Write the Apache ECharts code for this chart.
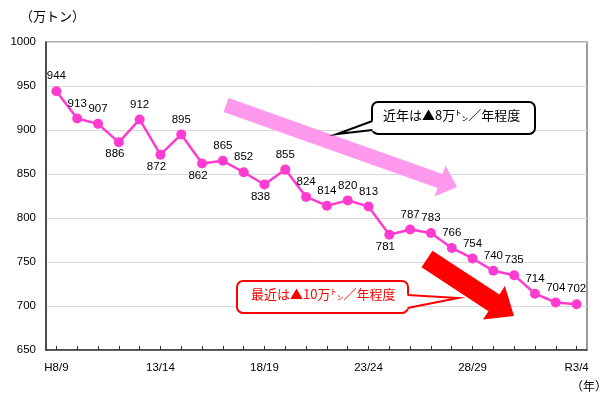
<!DOCTYPE html>
<html><head><meta charset="utf-8">
<script src="https://cdn.jsdelivr.net/npm/echarts@6/dist/echarts.min.js"></script>
<style>html,body{margin:0;padding:0;background:#fff}#c{width:607px;height:407px}</style>
</head><body><div id="c"></div>
<script>
var categories = ['H8/9','9/10','10/11','11/12','12/13','13/14','14/15','15/16','16/17','17/18','18/19','19/20','20/21','21/22','22/23','23/24','24/25','25/26','26/27','27/28','28/29','29/30','30/R1','R1/2','R2/3','R3/4'];
var values = [944,913,907,886,912,872,895,862,865,852,838,855,824,814,820,813,781,787,783,766,754,740,735,714,704,702];
var belowIdx = [3,5,7,10,16];
var yTicks = [650,700,750,800,850,900,950,1000];
var unitLabel = '（万トン）';
var yearLabel = '（年）';
var note1 = '近年は▲8万㌧／年程度';
var note2 = '最近は▲10万㌧／年程度';

var chart = echarts.init(document.getElementById('c'), null, {renderer:'canvas'});
var numFont = 'Liberation Sans, Arial, sans-serif';
var jpFont = '"Noto Sans CJK JP", sans-serif';

var data = values.map(function(v,i){
  var below = belowIdx.indexOf(i) >= 0;
  return {value: v, label: below ? {position:'bottom', distance:1, offset:[-4,0]} : {position:'top', distance:4}};
});

function arrowPts(x0,y0,x1,y1,sw,hw,hl){
  var dx=x1-x0, dy=y1-y0, L=Math.sqrt(dx*dx+dy*dy), ux=dx/L, uy=dy/L, nx=-uy, ny=ux;
  var bx=x1-ux*hl, by=y1-uy*hl;
  return [[x0+nx*sw/2,y0+ny*sw/2],[bx+nx*sw/2,by+ny*sw/2],[bx+nx*hw/2,by+ny*hw/2],[x1,y1],
          [bx-nx*hw/2,by-ny*hw/2],[bx-nx*sw/2,by-ny*sw/2],[x0-nx*sw/2,y0-ny*sw/2]];
}

var option = {
  animation:false,
  backgroundColor:'#fff',
  grid:{left:46,right:20,top:42,bottom:57,show:true,borderColor:'#595959',borderWidth:1.2,backgroundColor:'transparent'},
  xAxis:{
    type:'category', data:categories, boundaryGap:true,
    axisLine:{lineStyle:{color:'#333',width:1.5}},
    axisTick:{show:true,inside:true,alignWithLabel:true,interval:0,length:4,lineStyle:{color:'#333'}},
    axisLabel:{interval:4,color:'#000',fontSize:11.5,fontFamily:numFont,margin:12}
  },
  yAxis:{
    type:'value', min:yTicks[0], max:yTicks[yTicks.length-1], interval:50,
    axisLine:{show:true,lineStyle:{color:'#333',width:1.5}},
    axisTick:{show:false},
    splitLine:{lineStyle:{color:'#d9d9d9',width:1}},
    axisLabel:{color:'#000',fontSize:11.5,fontFamily:numFont,margin:10,formatter:function(v){return String(v);}}
  },
  series:[{
    type:'line', data:data, symbol:'circle', symbolSize:10,
    lineStyle:{color:'#ff3ccf',width:2.5},
    itemStyle:{color:'#ff3ccf'},
    label:{show:true,color:'#000',fontSize:11.5,fontFamily:numFont}
  }],
  graphic:[
    {type:'text',left:20,top:10,style:{text:unitLabel,font:'13px '+jpFont,fill:'#000'}},
    {type:'text',left:571,top:380,style:{text:yearLabel,font:'12px '+jpFont,fill:'#000'}},
    {type:'polygon',shape:{points:arrowPts(226,105,457,187,15,33,18)},style:{fill:'#ff99ee'},z:1},
    {type:'polygon',shape:{points:arrowPts(427,259,514,316,20,40,24)},style:{fill:'#ff0000'},z:1},
    {type:'rect',shape:{x:372,y:102,width:163,height:32,r:6},style:{fill:'#fff',stroke:'#000',lineWidth:2},z:10},
    {type:'polygon',shape:{points:[[374,120],[337,134],[374,131]]},style:{fill:'#fff'},z:11},
    {type:'polyline',shape:{points:[[372.5,121],[337,134],[372.5,130]]},style:{stroke:'#000',lineWidth:2,fill:null},z:12},
    {type:'text',left:383,top:109,style:{text:note1,font:'13px '+jpFont,fill:'#000'},z:13},
    {type:'rect',shape:{x:237,y:281,width:171,height:32,r:6},style:{fill:'#fff',stroke:'#ff0000',lineWidth:2},z:10},
    {type:'polygon',shape:{points:[[406,294],[458,298],[406,309]]},style:{fill:'#fff'},z:11},
    {type:'polyline',shape:{points:[[407.5,295],[458,298],[407.5,308]]},style:{stroke:'#ff0000',lineWidth:2,fill:null},z:12},
    {type:'text',left:251,top:288,style:{text:note2,font:'13px '+jpFont,fill:'#ff0000'},z:13}
  ]
};
chart.setOption(option);
</script></body></html>
